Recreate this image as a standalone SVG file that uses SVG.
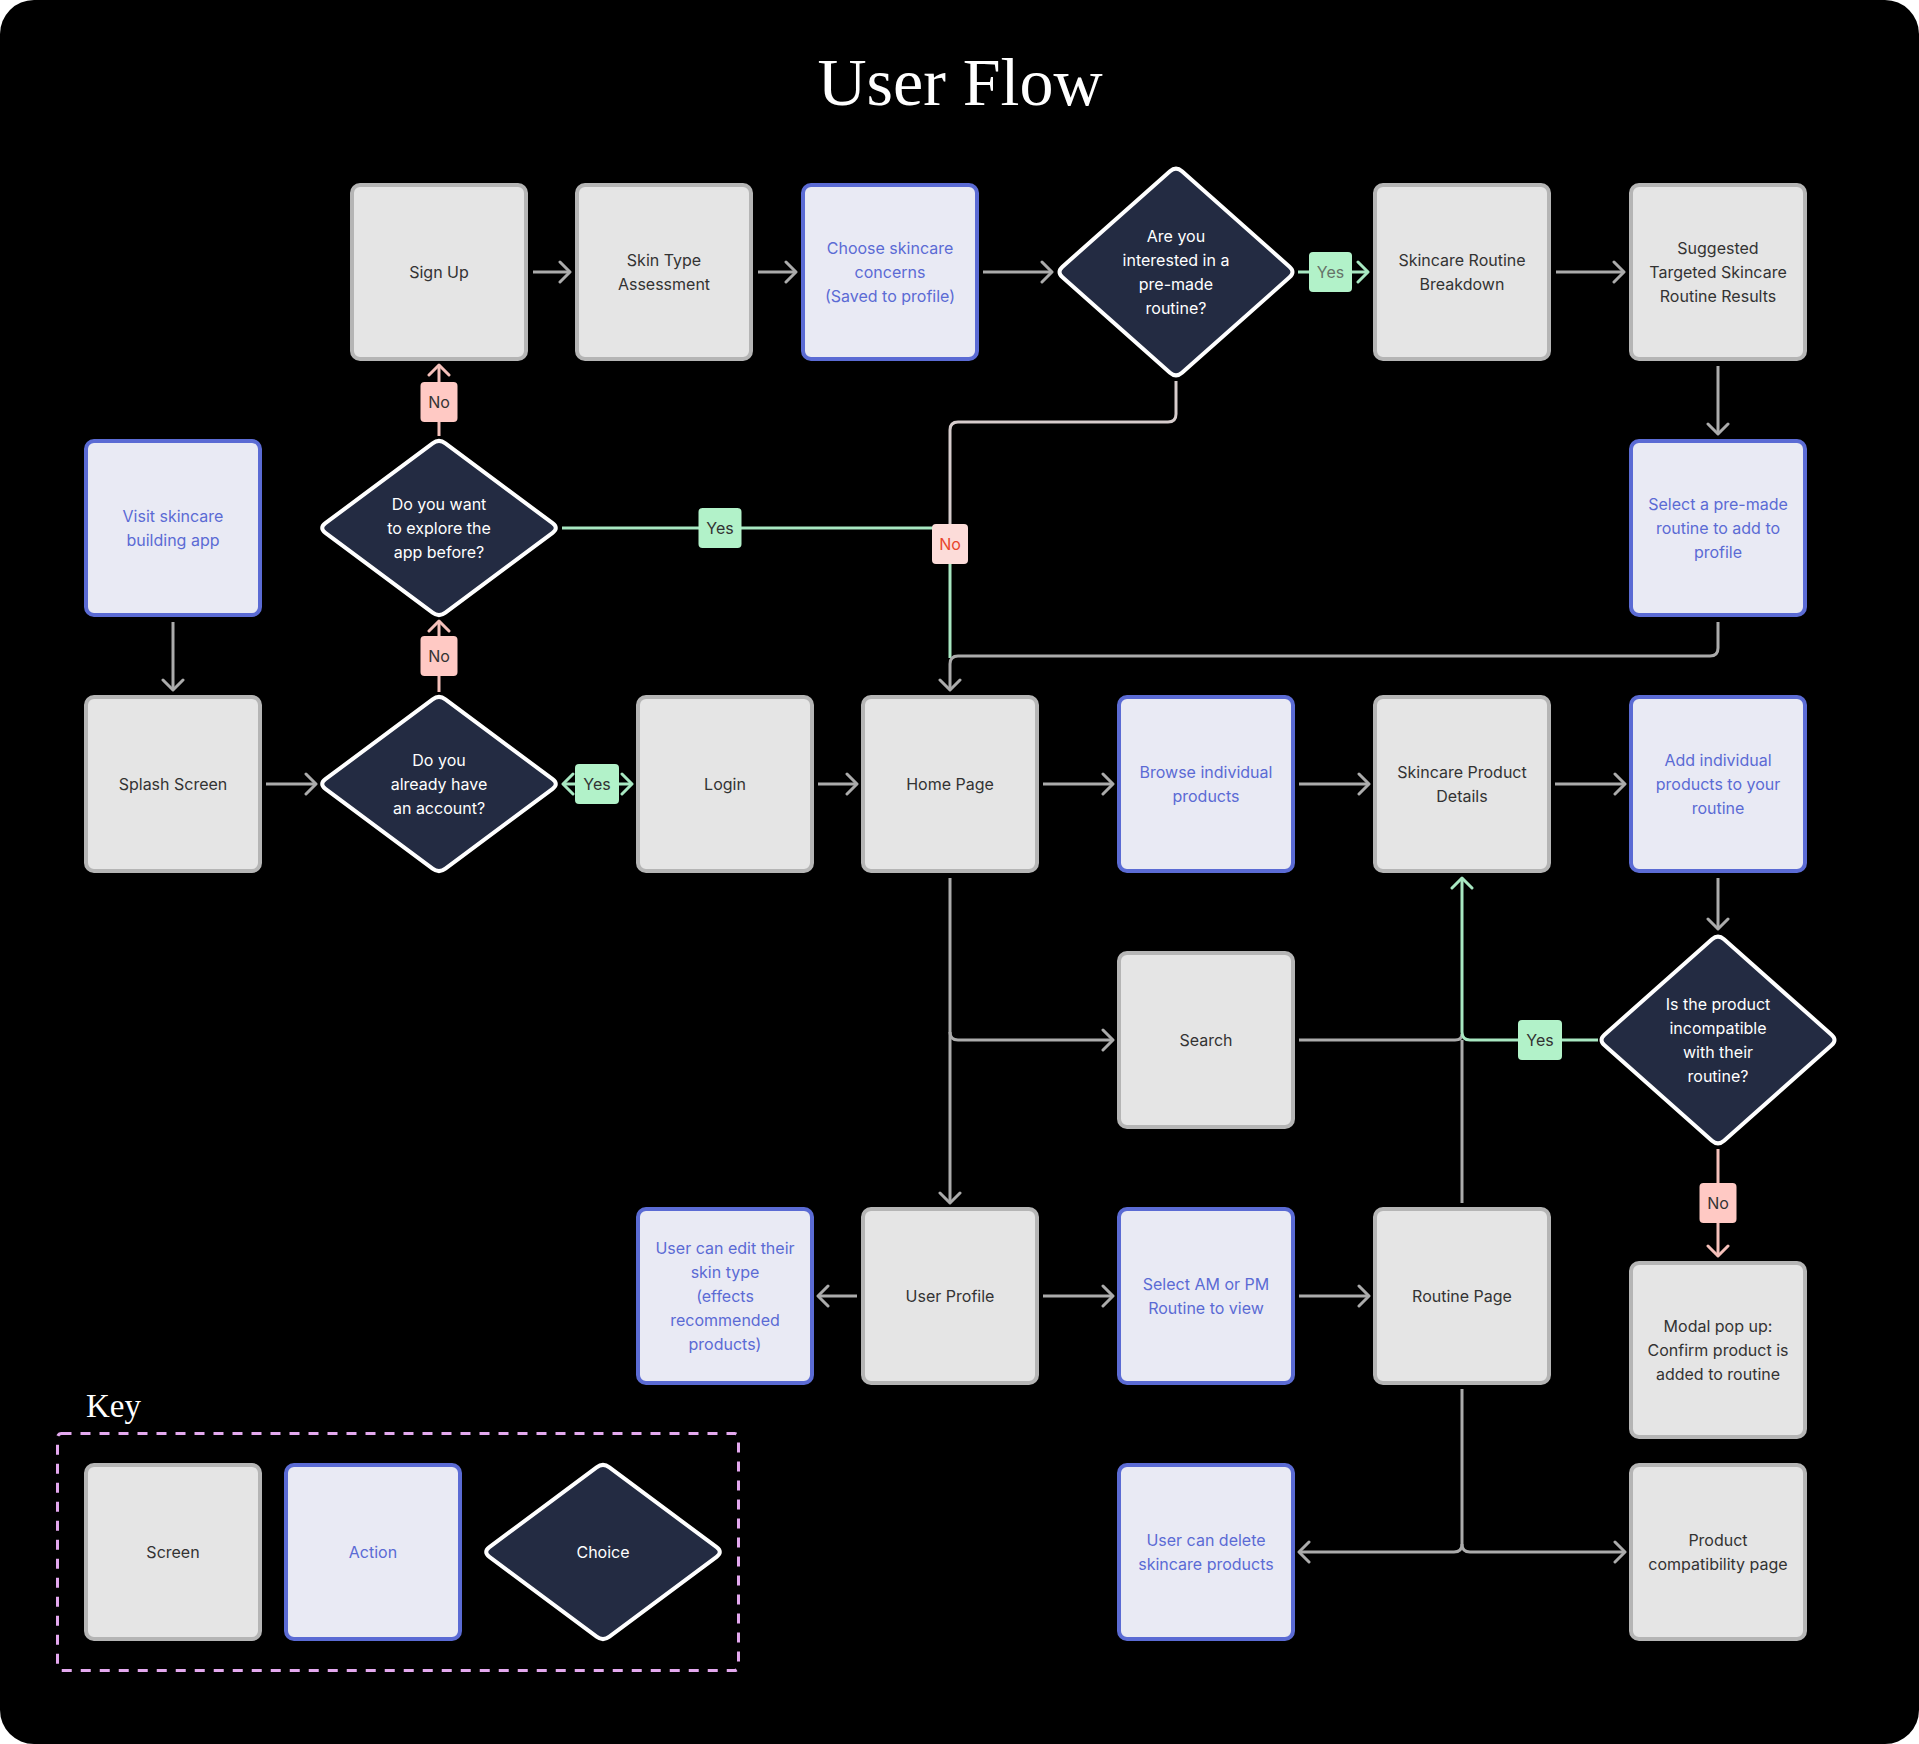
<svg xmlns="http://www.w3.org/2000/svg" width="1919" height="1744" viewBox="0 0 1919 1744">
<defs>
<style>
.scr rect{fill:#e5e5e5;stroke:#b5b5b5;stroke-width:4}
.act rect{fill:#e9eaf4;stroke:#5b6bd4;stroke-width:4}
.dia use{fill:#232b42;stroke:#ffffff;stroke-width:4;stroke-linejoin:round}
text{font-family:Inter,"Liberation Sans",sans-serif;font-size:16px;text-anchor:middle}
.scr text{fill:#333333}
.act text{fill:#5b6bd4}
.dia text{fill:#ffffff}
.g{fill:none;stroke:#ababab;stroke-width:3}
.gr{fill:none;stroke:#a8e8c2;stroke-width:3}
.pk{fill:none;stroke:#f5c0ba;stroke-width:3}
.gp{fill:none;stroke:#d6cccc;stroke-width:3}
.ly rect{fill:#b2f2c9}
.ln rect{fill:#ffc9c4}
.ly text,.ln text{fill:#333333}
</style>
<path id="dreg" d="M-113.6,-4.8 L-6.4,-84.7 Q0,-89.5 6.4,-84.7 L113.6,-4.8 Q120,0 113.6,4.8 L6.4,84.7 Q0,89.5 -6.4,84.7 L-113.6,4.8 Q-120,0 -113.6,-4.8 Z"/>
<path id="dtall" d="M-113.5,-5.3 L-6,-100.7 Q0,-106 6,-100.7 L113.5,-5.3 Q119.5,0 113.5,5.3 L6,100.7 Q0,106 -6,100.7 L-113.5,5.3 Q-119.5,0 -113.5,-5.3 Z"/>
<marker id="ag" viewBox="-12 -12 14 24" markerWidth="14" markerHeight="24" refX="0" refY="0" orient="auto-start-reverse" markerUnits="userSpaceOnUse"><path d="M-10,-10 L0,0 L-10,10" fill="none" stroke="#ababab" stroke-width="3" stroke-linecap="round" stroke-linejoin="round"/></marker>
<marker id="agr" viewBox="-12 -12 14 24" markerWidth="14" markerHeight="24" refX="0" refY="0" orient="auto-start-reverse" markerUnits="userSpaceOnUse"><path d="M-10,-10 L0,0 L-10,10" fill="none" stroke="#a8e8c2" stroke-width="3" stroke-linecap="round" stroke-linejoin="round"/></marker>
<marker id="apk" viewBox="-12 -12 14 24" markerWidth="14" markerHeight="24" refX="0" refY="0" orient="auto-start-reverse" markerUnits="userSpaceOnUse"><path d="M-10,-10 L0,0 L-10,10" fill="none" stroke="#f5c0ba" stroke-width="3" stroke-linecap="round" stroke-linejoin="round"/></marker>
</defs>
<rect x="0" y="0" width="1919" height="1744" fill="#ffffff"/>
<rect x="0" y="0" width="1919" height="1744" rx="34" fill="#000000"/>
<text x="960" y="105" style="font-family:'Liberation Serif',serif;font-size:68px;fill:#ffffff">User Flow</text>

<g id="connectors">
<path class="g" d="M533,272 H570" marker-end="url(#ag)"/>
<path class="g" d="M758,272 H796" marker-end="url(#ag)"/>
<path class="g" d="M983,272 H1052" marker-end="url(#ag)"/>
<path class="gr" d="M1298,272 H1368" marker-end="url(#agr)"/>
<path class="g" d="M1556,272 H1624" marker-end="url(#ag)"/>
<path class="g" d="M1718,366 V434" marker-end="url(#ag)"/>
<path class="gp" d="M1176,381 V414 Q1176,422 1168,422 H958 Q950,422 950,430 V526"/>
<path class="gr" d="M562,528 H950 V658"/>
<path class="g" d="M1718,622 V648 Q1718,656 1710,656 H958 Q950,656 950,664 V690" marker-end="url(#ag)"/>
<path class="pk" d="M439,436 V365" marker-end="url(#apk)"/>
<path class="pk" d="M439,692 V621" marker-end="url(#apk)"/>
<path class="g" d="M173,622 V690" marker-end="url(#ag)"/>
<path class="g" d="M266,784 H316" marker-end="url(#ag)"/>
<path class="gr" d="M563,784 H632" marker-start="url(#agr)" marker-end="url(#agr)"/>
<path class="g" d="M818,784 H857" marker-end="url(#ag)"/>
<path class="g" d="M1043,784 H1113" marker-end="url(#ag)"/>
<path class="g" d="M1299,784 H1369" marker-end="url(#ag)"/>
<path class="g" d="M1555,784 H1625" marker-end="url(#ag)"/>
<path class="g" d="M1718,878 V929" marker-end="url(#ag)"/>
<path class="g" d="M950,878 V1203" marker-end="url(#ag)"/>
<path class="g" d="M950,1032 Q950,1040 958,1040 H1113" marker-end="url(#ag)"/>
<path class="g" d="M1299,1040 H1455 Q1462,1040 1462,1034"/>
<path class="g" d="M1462,1203 V1040"/>
<path class="gr" d="M1598,1040 H1470 Q1462,1040 1462,1032 V878" marker-end="url(#agr)"/>
<path class="pk" d="M1718,1149 V1256" marker-end="url(#apk)"/>
<path class="g" d="M857,1296 H818" marker-end="url(#ag)"/>
<path class="g" d="M1043,1296 H1113" marker-end="url(#ag)"/>
<path class="g" d="M1299,1296 H1369" marker-end="url(#ag)"/>
<path class="g" d="M1462,1389 V1544 Q1462,1552 1454,1552 H1299" marker-end="url(#ag)"/>
<path class="g" d="M1462,1544 Q1462,1552 1470,1552 H1625" marker-end="url(#ag)"/>
</g>

<g id="labels">
<g class="ln"><rect x="420.5" y="382" width="37" height="40" rx="4"/><text x="439" y="408">No</text></g>
<g class="ln"><rect x="420.5" y="636" width="37" height="40" rx="4"/><text x="439" y="662">No</text></g>
<g><rect x="932" y="524" width="36" height="40" rx="4" fill="#fcdcd9"/><text x="950" y="550" fill="#e8452c">No</text></g>
<g class="ln"><rect x="1699.5" y="1183" width="37" height="40" rx="4"/><text x="1718" y="1209">No</text></g>
<g class="ly"><rect x="1309" y="252" width="43" height="40" rx="4"/><text x="1330.5" y="278" style="fill:#667268">Yes</text></g>
<g class="ly"><rect x="698.5" y="508" width="43" height="40" rx="4"/><text x="720" y="534">Yes</text></g>
<g class="ly"><rect x="575" y="764" width="44" height="40" rx="4"/><text x="597" y="790">Yes</text></g>
<g class="ly"><rect x="1518" y="1020" width="44" height="40" rx="4"/><text x="1540" y="1046">Yes</text></g>
</g>

<g id="n-signup" class="scr"><rect x="352" y="185" width="174" height="174" rx="8"/><text x="439" y="278">Sign Up</text></g>
<g id="n-skintype" class="scr"><rect x="577" y="185" width="174" height="174" rx="8"/><text x="664"><tspan x="664" y="266">Skin Type</tspan><tspan x="664" y="290">Assessment</tspan></text></g>
<g id="n-concerns" class="act"><rect x="803" y="185" width="174" height="174" rx="8"/><text><tspan x="890" y="254">Choose skincare</tspan><tspan x="890" y="278">concerns</tspan><tspan x="890" y="302">(Saved to profile)</tspan></text></g>
<g id="d-premade" class="dia"><use href="#dtall" x="1176" y="272"/><text><tspan x="1176" y="242">Are you</tspan><tspan x="1176" y="266">interested in a</tspan><tspan x="1176" y="290">pre-made</tspan><tspan x="1176" y="314">routine?</tspan></text></g>
<g id="n-breakdown" class="scr"><rect x="1375" y="185" width="174" height="174" rx="8"/><text><tspan x="1462" y="266">Skincare Routine</tspan><tspan x="1462" y="290">Breakdown</tspan></text></g>
<g id="n-suggested" class="scr"><rect x="1631" y="185" width="174" height="174" rx="8"/><text><tspan x="1718" y="254">Suggested</tspan><tspan x="1718" y="278">Targeted Skincare</tspan><tspan x="1718" y="302">Routine Results</tspan></text></g>

<g id="n-visit" class="act"><rect x="86" y="441" width="174" height="174" rx="8"/><text><tspan x="173" y="522">Visit skincare</tspan><tspan x="173" y="546">building app</tspan></text></g>
<g id="d-explore" class="dia"><use href="#dreg" x="439" y="528"/><text><tspan x="439" y="510">Do you want</tspan><tspan x="439" y="534">to explore the</tspan><tspan x="439" y="558">app before?</tspan></text></g>
<g id="n-selectpremade" class="act"><rect x="1631" y="441" width="174" height="174" rx="8"/><text><tspan x="1718" y="510">Select a pre-made</tspan><tspan x="1718" y="534">routine to add to</tspan><tspan x="1718" y="558">profile</tspan></text></g>

<g id="n-splash" class="scr"><rect x="86" y="697" width="174" height="174" rx="8"/><text x="173" y="790">Splash Screen</text></g>
<g id="d-account" class="dia"><use href="#dreg" x="439" y="784"/><text><tspan x="439" y="766">Do you</tspan><tspan x="439" y="790">already have</tspan><tspan x="439" y="814">an account?</tspan></text></g>
<g id="n-login" class="scr"><rect x="638" y="697" width="174" height="174" rx="8"/><text x="725" y="790">Login</text></g>
<g id="n-home" class="scr"><rect x="863" y="697" width="174" height="174" rx="8"/><text x="950" y="790">Home Page</text></g>
<g id="n-browse" class="act"><rect x="1119" y="697" width="174" height="174" rx="8"/><text><tspan x="1206" y="778">Browse individual</tspan><tspan x="1206" y="802">products</tspan></text></g>
<g id="n-details" class="scr"><rect x="1375" y="697" width="174" height="174" rx="8"/><text><tspan x="1462" y="778">Skincare Product</tspan><tspan x="1462" y="802">Details</tspan></text></g>
<g id="n-add" class="act"><rect x="1631" y="697" width="174" height="174" rx="8"/><text><tspan x="1718" y="766">Add individual</tspan><tspan x="1718" y="790">products to your</tspan><tspan x="1718" y="814">routine</tspan></text></g>

<g id="n-search" class="scr"><rect x="1119" y="953" width="174" height="174" rx="8"/><text x="1206" y="1046">Search</text></g>
<g id="d-incompatible" class="dia"><use href="#dtall" x="1718" y="1040"/><text><tspan x="1718" y="1010">Is the product</tspan><tspan x="1718" y="1034">incompatible</tspan><tspan x="1718" y="1058">with their</tspan><tspan x="1718" y="1082">routine?</tspan></text></g>

<g id="n-edit" class="act"><rect x="638" y="1209" width="174" height="174" rx="8"/><text><tspan x="725" y="1254">User can edit their</tspan><tspan x="725" y="1278">skin type</tspan><tspan x="725" y="1302">(effects</tspan><tspan x="725" y="1326">recommended</tspan><tspan x="725" y="1350">products)</tspan></text></g>
<g id="n-profile" class="scr"><rect x="863" y="1209" width="174" height="174" rx="8"/><text x="950" y="1302">User Profile</text></g>
<g id="n-ampm" class="act"><rect x="1119" y="1209" width="174" height="174" rx="8"/><text><tspan x="1206" y="1290">Select AM or PM</tspan><tspan x="1206" y="1314">Routine to view</tspan></text></g>
<g id="n-routine" class="scr"><rect x="1375" y="1209" width="174" height="174" rx="8"/><text x="1462" y="1302">Routine Page</text></g>
<g id="n-modal" class="scr"><rect x="1631" y="1263" width="174" height="174" rx="8"/><text><tspan x="1718" y="1332">Modal pop up:</tspan><tspan x="1718" y="1356">Confirm product is</tspan><tspan x="1718" y="1380">added to routine</tspan></text></g>

<g id="n-delete" class="act"><rect x="1119" y="1465" width="174" height="174" rx="8"/><text><tspan x="1206" y="1546">User can delete</tspan><tspan x="1206" y="1570">skincare products</tspan></text></g>
<g id="n-compat" class="scr"><rect x="1631" y="1465" width="174" height="174" rx="8"/><text><tspan x="1718" y="1546">Product</tspan><tspan x="1718" y="1570">compatibility page</tspan></text></g>

<g id="key">
<text x="86" y="1417" style="font-family:'Liberation Serif',serif;font-size:33px;fill:#ffffff;text-anchor:start">Key</text>
<rect x="57.5" y="1433.5" width="681" height="237" rx="4" fill="none" stroke="#e3a8ee" stroke-width="3" stroke-dasharray="10 9"/>
<g id="key-screen" class="scr"><rect x="86" y="1465" width="174" height="174" rx="8"/><text x="173" y="1558">Screen</text></g>
<g id="key-action" class="act"><rect x="286" y="1465" width="174" height="174" rx="8"/><text x="373" y="1558">Action</text></g>
<g id="key-choice" class="dia"><use href="#dreg" x="603" y="1552"/><text x="603" y="1558">Choice</text></g>
</g>
</svg>
